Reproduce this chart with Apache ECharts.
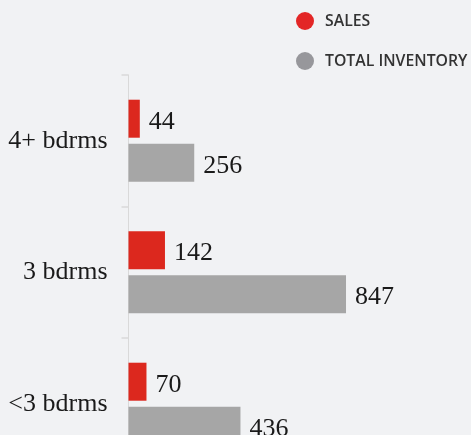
<!DOCTYPE html>
<html><head><meta charset="utf-8">
<script src="https://cdn.jsdelivr.net/npm/echarts@6/dist/echarts.min.js"></script>
<style>html,body{margin:0;padding:0;background:#f1f2f4;}#c{width:471px;height:435px;}</style>
</head><body><div id="c"></div>
<script>
const categories = ['4+ bdrms', '3 bdrms', '<3 bdrms'];
const salesName = 'SALES';
const inventoryName = 'TOTAL INVENTORY';
const salesValues = [44, 142, 70];
const inventoryValues = [256, 847, 436];

const chart = echarts.init(document.getElementById('c'), null, {renderer: 'canvas'});
const labelStyle = {show: true, position: 'right', distance: 9, offset: [0, 3], color: '#1a1a1a',
  fontFamily: 'Liberation Serif', fontSize: 26};
chart.setOption({
  backgroundColor: '#f1f2f4',
  animation: false,
  legend: {
    orient: 'vertical', left: 291, top: 7, itemGap: 22,
    icon: 'circle', itemWidth: 18, itemHeight: 18,
    textStyle: {fontFamily: 'Open Sans', fontWeight: 600, fontSize: 15.8, color: '#333', padding: [0,0,0,6]},
    data: [
      {name: salesName, itemStyle: {color: '#e32626'}},
      {name: inventoryName, itemStyle: {color: '#97979b'}}
    ]
  },
  grid: {left: 128.5, top: 75, width: 256.8, height: 394.5, outerBoundsMode: 'none', containLabel: false},
  xAxis: {type: 'value', min: 0, max: 1000, show: false},
  yAxis: {
    type: 'category', inverse: true, data: categories,
    axisLine: {lineStyle: {color: '#d9d9d9', width: 1}},
    axisTick: {show: true, length: 7, lineStyle: {color: '#d9d9d9', width: 1.5}},
    axisLabel: {margin: 21, color: '#1a1a1a', fontFamily: 'Liberation Serif', fontSize: 26,
      padding: [4, 0, 0, 0]}
  },
  series: [
    {name: salesName, type: 'bar', data: salesValues, barWidth: 38, barGap: '16%',
     itemStyle: {color: '#dc281e'}, label: labelStyle},
    {name: inventoryName, type: 'bar', data: inventoryValues, barWidth: 38,
     itemStyle: {color: '#a6a6a6'}, label: labelStyle}
  ]
});
</script></body></html>
